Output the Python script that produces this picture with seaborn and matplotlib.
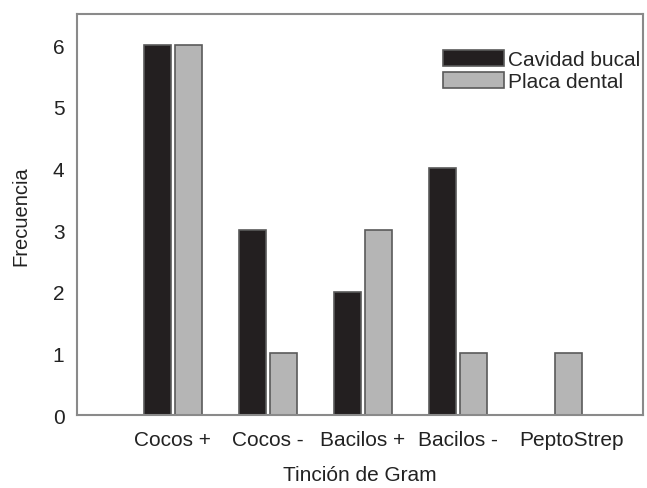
import pandas as pd
import matplotlib
matplotlib.use("Agg")
import matplotlib.pyplot as plt
import matplotlib.transforms as mtransforms
import seaborn as sns

# datos
categorias = ["Cocos +", "Cocos -", "Bacilos +", "Bacilos -", "PeptoStrep"]
cavidad_bucal = [6, 3, 2, 4, 0]
placa_dental = [6, 1, 3, 1, 1]
series = ["Cavidad bucal", "Placa dental"]

df = pd.DataFrame({
    "Tincion": categorias * 2,
    "Frecuencia": cavidad_bucal + placa_dental,
    "Grupo": [series[0]] * len(categorias) + [series[1]] * len(categorias),
})

sns.set_style("white")
plt.rcParams["font.family"] = ["Liberation Sans", "DejaVu Sans"]

fig = plt.figure(figsize=(6.47, 4.89), dpi=100)
ax = fig.add_axes([0.119, 0.149, 0.875, 0.82])

sns.barplot(data=df, x="Tincion", y="Frecuencia", hue="Grupo", order=categorias,
            hue_order=series, palette=["#231f20", "#b5b5b5"], width=0.66, gap=0.13,
            edgecolor="#5a5a5a", linewidth=1.2, saturation=1, ax=ax)

ax.set_xlim(-1.01, 4.95)
ax.set_ylim(0, 6.5)
ax.set_yticks(range(0, 7))
ax.set_xlabel("Tinción de Gram", fontsize=15, labelpad=11, color="#222222")
ax.set_ylabel("Frecuencia", fontsize=14.5, labelpad=16, color="#222222")
ax.tick_params(axis="both", labelsize=15, colors="#222222", length=3, width=1,
               direction="out")
ax.tick_params(axis="x", pad=8)
ax.tick_params(axis="y", pad=6)
for t in ax.get_xticklines() + ax.get_yticklines():
    t.set_color("#909090")
for s in ax.spines.values():
    s.set_color("#8a8a8a")
    s.set_linewidth(1.5)

# la ultima etiqueta aparece algo desplazada a la derecha en el original
ult = ax.get_xticklabels()[-1]
ult.set_transform(ult.get_transform() + mtransforms.ScaledTranslation(0.19, 0, fig.dpi_scale_trans))

ax.legend(loc="upper right", bbox_to_anchor=(0.995, 0.91), frameon=False,
          fontsize=15, handlelength=2.9, handleheight=0.75, handletextpad=0.2,
          labelspacing=0.15, borderpad=0, borderaxespad=0)

fig.savefig("out.png", dpi=100)
